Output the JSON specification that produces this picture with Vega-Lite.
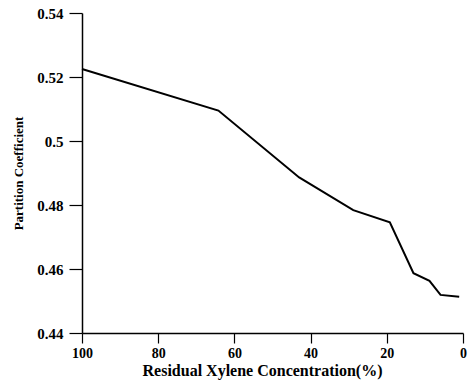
{
  "$schema": "https://vega.github.io/schema/vega-lite/v6.json",
  "width": 381,
  "height": 320,
  "autosize": {"type": "none"},
  "padding": {"left": 82, "top": 13, "right": 5, "bottom": 50},
  "background": "white",
  "config": {
    "view": {"stroke": null},
    "axis": {
      "labelFont": "Liberation Serif",
      "titleFont": "Liberation Serif",
      "labelFontWeight": "bold",
      "titleFontWeight": "bold",
      "labelColor": "black",
      "titleColor": "black",
      "domainColor": "black",
      "tickColor": "black",
      "grid": false,
      "domainWidth": 1.5,
      "tickWidth": 1.2,
      "labelFlush": false,
      "labelOverlap": false
    }
  },
  "data": {
    "values": [
      {"conc": 100, "pc": 0.5225},
      {"conc": 64.2, "pc": 0.5095},
      {"conc": 43.0, "pc": 0.4886},
      {"conc": 28.8, "pc": 0.4784},
      {"conc": 19.2, "pc": 0.4746},
      {"conc": 13.0, "pc": 0.4587},
      {"conc": 8.8, "pc": 0.4563},
      {"conc": 5.9, "pc": 0.4519},
      {"conc": 1.0, "pc": 0.4513}
    ]
  },
  "mark": {"type": "line", "color": "black", "strokeWidth": 2},
  "encoding": {
    "x": {
      "field": "conc",
      "type": "quantitative",
      "scale": {"domain": [0, 100], "reverse": true, "nice": false},
      "axis": {
        "title": "Residual Xylene Concentration(%)",
        "values": [0, 20, 40, 60, 80, 100],
        "tickSize": 10,
        "labelFontSize": 14,
        "titleFontSize": 16,
        "labelPadding": 3,
        "titlePadding": 2,
        "titleX": 180
      }
    },
    "y": {
      "field": "pc",
      "type": "quantitative",
      "scale": {"domain": [0.44, 0.54], "nice": false, "zero": false},
      "axis": {
        "title": "Partition Coefficient",
        "values": [0.44, 0.46, 0.48, 0.5, 0.52, 0.54],
        "format": "~g",
        "tickSize": 13,
        "labelFontSize": 15,
        "titleFontSize": 13,
        "labelPadding": 6,
        "titlePadding": 11
      }
    }
  }
}
